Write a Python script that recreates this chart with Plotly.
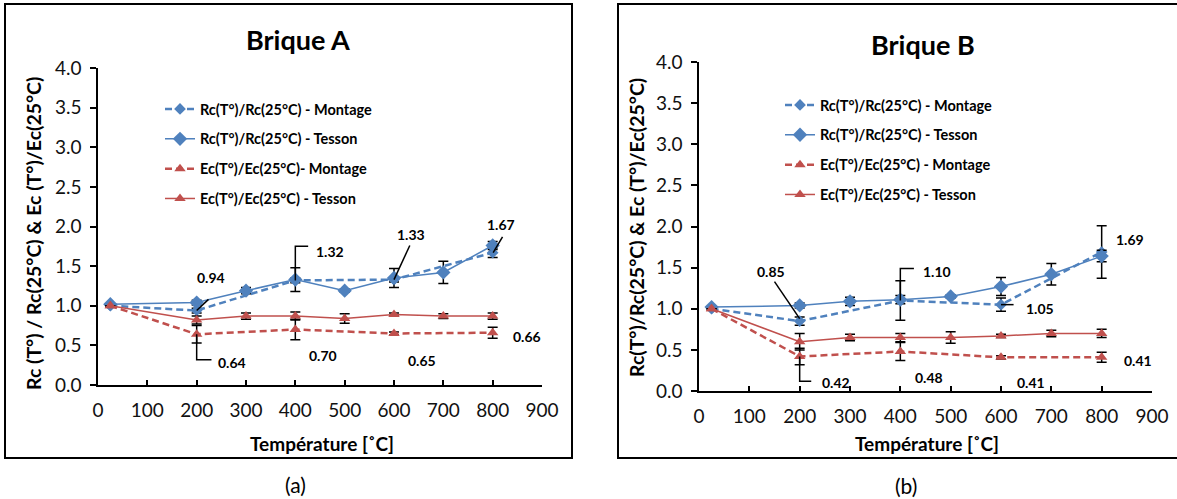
import plotly.graph_objects as go

# ---------------- data ----------------
T_all = [25, 200, 300, 400, 500, 600, 700, 800]
T_mont = [25, 200, 400, 600, 800]

# Brique A
rcA_mont = [1.00, 0.94, 1.32, 1.33, 1.67]
rcA_mont_err = [0.0, 0.03, 0.03, 0.03, 0.06]
rcA_tess = [1.02, 1.04, 1.19, 1.33, 1.19, 1.35, 1.42, 1.76]
rcA_tess_err = [0.0, 0.03, 0.04, 0.15, 0.02, 0.12, 0.14, 0.05]
ecA_mont = [1.00, 0.64, 0.70, 0.65, 0.66]
ecA_mont_err = [0.0, 0.11, 0.13, 0.02, 0.07]
ecA_tess = [1.00, 0.82, 0.87, 0.87, 0.84, 0.89, 0.87, 0.87]
ecA_tess_err = [0.0, 0.05, 0.04, 0.05, 0.06, 0.02, 0.03, 0.04]

# Brique B
rcB_mont = [1.00, 0.85, 1.10, 1.05, 1.69]
rcB_mont_err = [0.0, 0.05, 0.24, 0.08, 0.32]
rcB_tess = [1.02, 1.04, 1.09, 1.11, 1.15, 1.27, 1.42, 1.64]
rcB_tess_err = [0.0, 0.03, 0.05, 0.05, 0.02, 0.11, 0.13, 0.07]
ecB_mont = [1.00, 0.42, 0.48, 0.41, 0.41]
ecB_mont_err = [0.0, 0.10, 0.11, 0.02, 0.06]
ecB_tess = [1.00, 0.60, 0.65, 0.65, 0.65, 0.67, 0.70, 0.70]
ecB_tess_err = [0.0, 0.10, 0.04, 0.05, 0.07, 0.02, 0.04, 0.05]

# value labels: (text, x, y)
labels_A = [("0.94", 230, 1.36), ("1.32", 470, 1.69), ("1.33", 634, 1.90),
            ("1.67", 817, 2.03), ("0.64", 271, 0.28), ("0.70", 457, 0.37),
            ("0.65", 656, 0.31), ("0.66", 869, 0.61)]
labels_B = [("0.85", 143, 1.45), ("1.10", 472, 1.45), ("1.05", 677, 1.00),
            ("1.69", 857, 1.84), ("0.42", 273, 0.10), ("0.48", 457, 0.16),
            ("0.41", 660, 0.10), ("0.41", 873, 0.37)]
# leader lines (polylines in data units)
leaders_A = [[(200, 0.94), (224, 1.08)],
             [(400, 1.32), (400, 1.75), (426, 1.75)],
             [(600, 1.33), (632, 1.76)],
             [(801, 1.67), (820, 1.87)],
             [(200, 0.64), (200, 0.32), (230, 0.32)]]
leaders_B = [[(200, 0.88), (150, 1.33)],
             [(400, 1.10), (400, 1.49), (427, 1.49)],
             [(600, 1.05), (625, 1.05)],
             [(200, 0.42), (200, 0.12), (223, 0.12)]]

names_A = ["Rc(T°)/Rc(25°C) - Montage", "Rc(T°)/Rc(25°C) - Tesson",
           "Ec(T°)/Ec(25°C)- Montage", "Ec(T°)/Ec(25°C) - Tesson"]
names_B = ["Rc(T°)/Rc(25°C) - Montage", "Rc(T°)/Rc(25°C) - Tesson",
           "Ec(T°)/Ec(25°C) - Montage", "Ec(T°)/Ec(25°C) - Tesson"]

# ---------------- style ----------------
BLUE = "#4F81BD"
RED = "#C0504D"
FONT = "Lato"
W, H = 1177, 499

fig = go.Figure()


def eb(arr):
    return dict(type="data", array=arr, color="black", thickness=1.5, width=5)


def add_panel(xa, ya, leg, names, rc_m, rc_me, rc_t, rc_te, ec_m, ec_me, ec_t, ec_te):
    specs = [
        (names[0], T_mont, rc_m, rc_me, BLUE, "7px,4px", 2.5, "diamond", 9),
        (names[1], T_all, rc_t, rc_te, BLUE, "solid", 1.5, "diamond", 11),
        (names[2], T_mont, ec_m, ec_me, RED, "7px,4px", 2.5, "triangle-up", 10),
        (names[3], T_all, ec_t, ec_te, RED, "solid", 1.5, "triangle-up", 10),
    ]
    for i, (nm, xs, ys, er, col, dash, lw, sym, ms) in enumerate(specs):
        fig.add_trace(go.Scatter(
            x=xs, y=ys, name="<b>" + nm + "</b>", mode="lines+markers",
            line=dict(color=col, width=lw, dash=dash),
            marker=dict(symbol=sym, size=ms, color=col),
            error_y=eb(er), xaxis=xa, yaxis=ya, legend=leg,
            legendgroup=leg + str(i)))


add_panel("x", "y", "legend", names_A, rcA_mont, rcA_mont_err, rcA_tess, rcA_tess_err,
          ecA_mont, ecA_mont_err, ecA_tess, ecA_tess_err)
add_panel("x2", "y2", "legend2", names_B, rcB_mont, rcB_mont_err, rcB_tess, rcB_tess_err,
          ecB_mont, ecB_mont_err, ecB_tess, ecB_tess_err)

annotations = []
shapes = []


def add_labels(labels, leaders, xr, yr):
    for t, x, y in labels:
        annotations.append(dict(text="<b>" + t + "</b>", x=x, y=y, xref=xr, yref=yr,
                                showarrow=False, font=dict(family=FONT, size=14, color="black")))
    for pts in leaders:
        path = "M " + " L ".join(f"{px},{py}" for px, py in pts)
        shapes.append(dict(type="path", path=path, xref=xr, yref=yr,
                           line=dict(color="black", width=1.5)))


add_labels(labels_A, leaders_A, "x", "y")
add_labels(labels_B, leaders_B, "x2", "y2")


def px_x(p):
    return p / W


def px_y(p):
    return 1 - p / H


# titles and axis titles
texts = [
    ("<b>Brique A</b>", 298, 40, 27, 0),
    ("<b>Brique B</b>", 923, 45, 27, 0),
    ("<b>Température [˚C]</b>", 322, 443, 19, 0),
    ("<b>Température [˚C]</b>", 927, 443, 19, 0),
    ("<b>Rc (T°) / Rc(25°C) & Ec (T°)/Ec(25°C)</b>", 33, 234, 19.5, -90),
    ("<b>Rc(T°)/Rc(25°C) & Ec (T°)/Ec(25°C)</b>", 636, 228, 19.5, -90),
    ("(a)", 295, 484, 21, 0),
    ("(b)", 906, 485, 21, 0),
]
for t, x, y, s, ang in texts:
    annotations.append(dict(text=t, x=px_x(x), y=px_y(y), xref="paper", yref="paper",
                            showarrow=False, textangle=ang, xanchor="center", yanchor="middle",
                            font=dict(family=FONT, size=s, color="black")))

# panel frames
shapes.append(dict(type="rect", xref="paper", yref="paper", x0=px_x(5), x1=px_x(572),
                   y0=px_y(458), y1=px_y(4), line=dict(color="black", width=2)))
shapes.append(dict(type="rect", xref="paper", yref="paper", x0=px_x(618), x1=px_x(1185),
                   y0=px_y(458), y1=px_y(4), line=dict(color="black", width=2)))

xax = dict(range=[0, 900], dtick=100, tick0=0, showgrid=False, zeroline=False,
           showline=True, linecolor="black", linewidth=1.5, ticks="inside", ticklen=5,
           tickcolor="black", tickwidth=1.5, automargin=False, ticklabelstandoff=7,
           tickfont=dict(family=FONT, size=19, color="#111"))
yax = dict(range=[0, 4], dtick=0.5, tick0=0, tickformat=".1f", showgrid=False, zeroline=False,
           showline=True, linecolor="black", linewidth=1.5, ticks="outside", ticklen=6,
           tickcolor="black", tickwidth=1.5, automargin=False, ticklabelstandoff=5,
           tickfont=dict(family=FONT, size=19, color="#111"))

legfont = dict(family=FONT, size=14.5, color="black")
fig.update_layout(
    width=W, height=H, margin=dict(l=0, r=0, t=0, b=0, autoexpand=False),
    paper_bgcolor="white", plot_bgcolor="white",
    xaxis=dict(xax, domain=[px_x(98), px_x(542)], anchor="y"),
    yaxis=dict(yax, domain=[px_y(385), px_y(68)], anchor="x"),
    xaxis2=dict(xax, domain=[px_x(699), px_x(1152)], anchor="y2"),
    yaxis2=dict(yax, domain=[px_y(391), px_y(62)], anchor="x2"),
    legend=dict(x=px_x(160), y=px_y(93), xanchor="left", yanchor="top",
                font=legfont, tracegroupgap=8, bgcolor="rgba(0,0,0,0)"),
    legend2=dict(x=px_x(780), y=px_y(89), xanchor="left", yanchor="top",
                 font=legfont, tracegroupgap=8, bgcolor="rgba(0,0,0,0)"),
    annotations=annotations, shapes=shapes, showlegend=True,
)

fig.write_html("out.html", config={"displayModeBar": False},
               post_script="document.body.style.margin='0';document.body.style.overflow='hidden';")
